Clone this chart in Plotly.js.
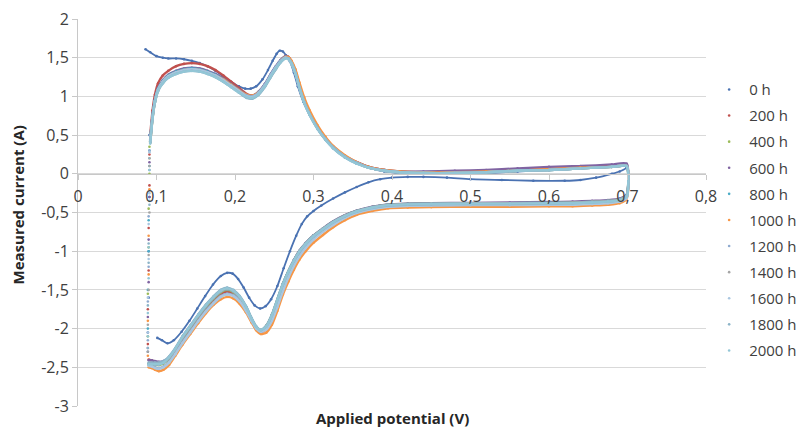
<!DOCTYPE html>
<html>
<head>
<meta charset="utf-8">
<script src="https://cdn.plot.ly/plotly-3.0.1.min.js"></script>
<style>html,body{margin:0;padding:0;background:#fff;}#chart{width:801px;height:427px;}</style>
</head>
<body>
<div id="chart"></div>
<script>
// ---------- DATA ----------
const seriesNames = ['0 h','200 h','400 h','600 h','800 h','1000 h','1200 h','1400 h','1600 h','1800 h','2000 h'];

const xTickVals = [0,0.1,0.2,0.3,0.4,0.5,0.6,0.7,0.8];
const xTickText = ['0','0,1','0,2','0,3','0,4','0,5','0,6','0,7','0,8'];
const yTickVals = [-3,-2.5,-2,-1.5,-1,-0.5,0,0.5,1,1.5,2];
const yTickText = ['-3','-2,5','-2','-1,5','-1','-0,5','0','0,5','1','1,5','2'];

// applied potential (V), anodic (forward) and cathodic (reverse) sweeps, 200 h - 2000 h
const potentialFwd = [0.092,0.095,0.098,0.102,0.108,0.115,0.125,0.135,0.145,0.155,0.165,0.175,0.185,0.195,0.205,0.215,0.222,0.23,0.238,0.245,0.252,0.258,0.264,0.268,0.272,0.277,0.282,0.288,0.295,0.305,0.315,0.325,0.34,0.355,0.37,0.39,0.41,0.44,0.48,0.52,0.56,0.6,0.64,0.68,0.699];
const potentialRev = [0.699,0.69,0.675,0.655,0.63,0.6,0.55,0.5,0.45,0.42,0.395,0.375,0.355,0.34,0.325,0.312,0.3,0.29,0.282,0.275,0.268,0.261,0.254,0.247,0.24,0.233,0.227,0.221,0.214,0.206,0.198,0.19,0.182,0.173,0.163,0.153,0.143,0.133,0.124,0.116,0.109,0.103,0.098,0.094,0.09];
// 0 h sweeps
const potential0hFwd = [0.086,0.092,0.1,0.108,0.115,0.125,0.135,0.145,0.155,0.165,0.175,0.185,0.195,0.205,0.213,0.22,0.227,0.235,0.242,0.248,0.253,0.257,0.261,0.265,0.27,0.275,0.28,0.287,0.295,0.305,0.315,0.325,0.34,0.355,0.37,0.39,0.41,0.44,0.48,0.52,0.56,0.6,0.64,0.68,0.699];
const potential0hRev = [0.699,0.69,0.68,0.66,0.64,0.62,0.58,0.54,0.5,0.47,0.44,0.42,0.4,0.385,0.37,0.355,0.34,0.325,0.31,0.3,0.292,0.285,0.278,0.27,0.262,0.254,0.246,0.239,0.232,0.225,0.218,0.211,0.204,0.197,0.19,0.182,0.172,0.162,0.152,0.142,0.132,0.122,0.114,0.107,0.101];
// sparse points of the potential step back to the start
const potentialJump = [0.089,0.089,0.09,0.09,0.091,0.091];

// measured current (A)
const current0hFwd = [1.61,1.57,1.52,1.5,1.49,1.49,1.48,1.46,1.43,1.39,1.33,1.26,1.19,1.13,1.1,1.1,1.13,1.22,1.34,1.46,1.55,1.59,1.58,1.53,1.45,1.31,1.13,0.93,0.76,0.58,0.44,0.33,0.21,0.13,0.08,0.03,0.01,0.0,0.0,0.01,0.03,0.05,0.07,0.09,0.1];
const current0hRev = [0.08,0.03,0.0,-0.05,-0.08,-0.09,-0.09,-0.08,-0.07,-0.05,-0.04,-0.04,-0.05,-0.07,-0.11,-0.17,-0.24,-0.32,-0.41,-0.48,-0.55,-0.65,-0.8,-1.0,-1.22,-1.45,-1.62,-1.71,-1.74,-1.7,-1.6,-1.47,-1.36,-1.29,-1.28,-1.32,-1.43,-1.58,-1.74,-1.9,-2.04,-2.15,-2.19,-2.15,-2.12];
const current0hJump = [-2.3,-2.05,-1.6,-1.0,-0.3,0.5];

const current200hFwd = [0.50,0.82,1.02,1.17,1.27,1.33,1.39,1.42,1.43,1.42,1.39,1.34,1.27,1.19,1.11,1.03,1.01,1.05,1.15,1.27,1.38,1.46,1.51,1.51,1.45,1.33,1.15,0.96,0.79,0.61,0.47,0.35,0.23,0.15,0.09,0.05,0.03,0.02,0.02,0.03,0.05,0.06,0.08,0.10,0.11];
const current200hRev = [-0.29,-0.34,-0.36,-0.37,-0.38,-0.385,-0.39,-0.39,-0.395,-0.40,-0.41,-0.44,-0.49,-0.55,-0.63,-0.72,-0.81,-0.91,-1.01,-1.13,-1.28,-1.45,-1.66,-1.86,-2.0,-2.05,-2.01,-1.9,-1.75,-1.63,-1.55,-1.52,-1.55,-1.63,-1.74,-1.87,-2.01,-2.15,-2.29,-2.39,-2.43,-2.44,-2.43,-2.41,-2.40];
const current200hJump = [-2.2,-1.75,-1.25,-0.7,-0.15,0.25];

const current400hFwd = [0.42,0.73,0.94,1.09,1.19,1.26,1.31,1.34,1.35,1.34,1.31,1.27,1.21,1.14,1.07,1.00,0.99,1.04,1.14,1.26,1.37,1.45,1.50,1.50,1.44,1.31,1.13,0.94,0.78,0.60,0.46,0.34,0.22,0.14,0.08,0.04,0.02,0.01,0.01,0.02,0.04,0.05,0.07,0.09,0.10];
const current400hRev = [-0.28,-0.33,-0.35,-0.36,-0.37,-0.375,-0.38,-0.38,-0.385,-0.39,-0.40,-0.43,-0.48,-0.54,-0.62,-0.71,-0.80,-0.90,-1.00,-1.12,-1.26,-1.43,-1.63,-1.83,-1.97,-2.03,-1.99,-1.88,-1.73,-1.61,-1.53,-1.50,-1.53,-1.61,-1.72,-1.85,-1.99,-2.13,-2.28,-2.39,-2.45,-2.47,-2.47,-2.47,-2.47];
const current400hJump = [-2.1,-1.55,-0.95,-0.45,0.0,0.35];

const current600hFwd = [0.44,0.76,0.96,1.11,1.21,1.28,1.33,1.36,1.37,1.36,1.33,1.29,1.23,1.16,1.09,1.02,1.01,1.06,1.16,1.28,1.39,1.47,1.52,1.51,1.44,1.31,1.13,0.94,0.78,0.60,0.46,0.35,0.23,0.15,0.09,0.05,0.03,0.03,0.04,0.05,0.07,0.09,0.10,0.12,0.13];
const current600hRev = [-0.27,-0.32,-0.34,-0.35,-0.36,-0.365,-0.37,-0.375,-0.38,-0.385,-0.395,-0.425,-0.475,-0.535,-0.615,-0.705,-0.795,-0.895,-0.995,-1.115,-1.26,-1.43,-1.64,-1.84,-1.99,-2.04,-2.0,-1.88,-1.72,-1.59,-1.51,-1.48,-1.51,-1.59,-1.70,-1.83,-1.97,-2.11,-2.26,-2.37,-2.42,-2.43,-2.42,-2.41,-2.41];
const current600hJump = [-2.25,-1.85,-1.4,-0.85,-0.3,0.15];

const current800hFwd = [0.45,0.75,0.95,1.10,1.20,1.27,1.32,1.35,1.36,1.35,1.32,1.28,1.22,1.15,1.08,1.01,1.00,1.05,1.15,1.27,1.38,1.46,1.51,1.50,1.43,1.30,1.12,0.93,0.77,0.59,0.45,0.34,0.22,0.14,0.08,0.04,0.02,0.01,0.01,0.02,0.04,0.05,0.07,0.09,0.10];
const current800hRev = [-0.28,-0.33,-0.35,-0.36,-0.37,-0.375,-0.38,-0.38,-0.385,-0.39,-0.40,-0.43,-0.48,-0.54,-0.62,-0.71,-0.80,-0.90,-1.00,-1.12,-1.26,-1.42,-1.62,-1.82,-1.96,-2.02,-1.98,-1.87,-1.72,-1.60,-1.52,-1.49,-1.52,-1.60,-1.71,-1.84,-1.98,-2.12,-2.27,-2.38,-2.44,-2.46,-2.46,-2.45,-2.45];
const current800hJump = [-2.0,-1.5,-1.0,-0.6,0.1,0.3];

const current1000hFwd = [0.40,0.72,0.93,1.08,1.19,1.26,1.31,1.34,1.35,1.34,1.31,1.27,1.22,1.15,1.08,1.02,1.01,1.05,1.14,1.25,1.36,1.45,1.51,1.51,1.46,1.35,1.18,0.99,0.82,0.63,0.48,0.36,0.24,0.15,0.09,0.05,0.03,0.02,0.02,0.03,0.04,0.06,0.08,0.09,0.10];
const current1000hRev = [-0.32,-0.38,-0.40,-0.41,-0.42,-0.42,-0.425,-0.425,-0.43,-0.435,-0.445,-0.48,-0.53,-0.60,-0.69,-0.79,-0.89,-1.0,-1.11,-1.24,-1.39,-1.56,-1.77,-1.95,-2.05,-2.07,-2.02,-1.92,-1.79,-1.68,-1.61,-1.59,-1.62,-1.69,-1.80,-1.93,-2.07,-2.21,-2.35,-2.47,-2.53,-2.55,-2.53,-2.51,-2.50];
const current1000hJump = [-2.35,-1.9,-1.3,-0.8,-0.2,0.2];

const current1200hFwd = [0.43,0.74,0.94,1.09,1.19,1.26,1.31,1.34,1.35,1.34,1.31,1.27,1.21,1.14,1.07,1.01,1.00,1.05,1.15,1.27,1.38,1.46,1.50,1.49,1.42,1.29,1.11,0.93,0.77,0.59,0.45,0.34,0.22,0.14,0.08,0.04,0.02,0.01,0.01,0.02,0.04,0.05,0.07,0.09,0.10];
const current1200hRev = [-0.30,-0.35,-0.37,-0.38,-0.39,-0.395,-0.40,-0.40,-0.405,-0.41,-0.42,-0.45,-0.50,-0.56,-0.65,-0.74,-0.84,-0.94,-1.05,-1.17,-1.32,-1.49,-1.69,-1.88,-2.0,-2.04,-1.99,-1.89,-1.75,-1.64,-1.57,-1.55,-1.58,-1.66,-1.77,-1.90,-2.04,-2.18,-2.32,-2.43,-2.49,-2.51,-2.50,-2.48,-2.47];
const current1200hJump = [-2.15,-1.65,-1.2,-0.55,0.05,0.3];

const current1400hFwd = [0.41,0.73,0.93,1.08,1.18,1.25,1.30,1.33,1.34,1.33,1.30,1.26,1.20,1.13,1.06,0.99,0.98,1.03,1.13,1.25,1.36,1.45,1.50,1.49,1.43,1.30,1.12,0.93,0.77,0.59,0.45,0.34,0.22,0.14,0.08,0.04,0.02,0.01,0.01,0.02,0.04,0.05,0.07,0.09,0.10];
const current1400hRev = [-0.28,-0.33,-0.35,-0.36,-0.37,-0.375,-0.38,-0.38,-0.385,-0.39,-0.40,-0.43,-0.48,-0.54,-0.62,-0.71,-0.80,-0.90,-1.00,-1.12,-1.26,-1.42,-1.62,-1.82,-1.96,-2.02,-1.98,-1.87,-1.72,-1.60,-1.52,-1.49,-1.52,-1.60,-1.71,-1.84,-1.98,-2.12,-2.27,-2.38,-2.44,-2.46,-2.46,-2.45,-2.45];
const current1400hJump = [-2.3,-1.95,-1.5,-1.05,-0.5,0.1];

const current1600hFwd = [0.42,0.74,0.94,1.09,1.19,1.26,1.31,1.34,1.35,1.34,1.31,1.27,1.21,1.14,1.07,1.00,0.99,1.04,1.14,1.26,1.37,1.45,1.50,1.49,1.43,1.30,1.12,0.93,0.77,0.59,0.45,0.34,0.22,0.14,0.08,0.04,0.02,0.01,0.01,0.02,0.04,0.05,0.07,0.09,0.10];
const current1600hRev = [-0.31,-0.36,-0.38,-0.39,-0.40,-0.40,-0.405,-0.405,-0.41,-0.415,-0.425,-0.455,-0.505,-0.57,-0.66,-0.75,-0.85,-0.96,-1.07,-1.19,-1.34,-1.52,-1.72,-1.9,-2.01,-2.04,-2.0,-1.9,-1.77,-1.65,-1.58,-1.56,-1.59,-1.67,-1.78,-1.91,-2.05,-2.19,-2.33,-2.44,-2.5,-2.52,-2.51,-2.49,-2.48];
const current1600hJump = [-2.05,-1.6,-1.1,-0.65,-0.25,0.28];

const current1800hFwd = [0.40,0.72,0.92,1.07,1.17,1.24,1.29,1.32,1.33,1.32,1.29,1.25,1.19,1.12,1.05,0.98,0.97,1.02,1.12,1.24,1.35,1.44,1.49,1.49,1.43,1.30,1.12,0.93,0.77,0.59,0.45,0.34,0.22,0.14,0.08,0.04,0.02,0.01,0.01,0.02,0.04,0.05,0.07,0.09,0.10];
const current1800hRev = [-0.29,-0.34,-0.36,-0.37,-0.38,-0.385,-0.39,-0.39,-0.395,-0.40,-0.41,-0.44,-0.49,-0.55,-0.63,-0.72,-0.81,-0.91,-1.01,-1.13,-1.27,-1.43,-1.63,-1.83,-1.97,-2.02,-1.97,-1.86,-1.71,-1.58,-1.50,-1.47,-1.50,-1.58,-1.69,-1.82,-1.96,-2.10,-2.25,-2.36,-2.42,-2.44,-2.44,-2.44,-2.44];
const current1800hJump = [-2.25,-1.7,-1.15,-0.9,-0.4,0.2];

const current2000hFwd = [0.39,0.71,0.92,1.07,1.17,1.24,1.29,1.32,1.33,1.32,1.29,1.25,1.19,1.12,1.05,0.99,0.98,1.03,1.13,1.25,1.36,1.44,1.49,1.48,1.42,1.29,1.11,0.92,0.76,0.58,0.44,0.33,0.21,0.13,0.08,0.04,0.02,0.01,0.01,0.02,0.04,0.05,0.07,0.09,0.10];
const current2000hRev = [-0.29,-0.34,-0.36,-0.37,-0.38,-0.38,-0.385,-0.385,-0.39,-0.395,-0.405,-0.435,-0.485,-0.545,-0.625,-0.715,-0.805,-0.905,-1.005,-1.125,-1.265,-1.43,-1.63,-1.83,-1.97,-2.02,-1.98,-1.87,-1.72,-1.59,-1.51,-1.48,-1.51,-1.59,-1.70,-1.83,-1.97,-2.11,-2.26,-2.37,-2.44,-2.46,-2.46,-2.46,-2.46];
const current2000hJump = [-2.1,-1.8,-1.35,-0.95,-0.35,0.05];

// ---------- STYLE ----------
const seriesColors = ['#4a72b2','#C0504D','#9BBB59','#8064A2','#4BACC6','#F79646','#8FAACF','#A5A5A5','#A9C6E0','#8CB4C8','#93C6D6'];

const seriesData = [
  [potential0hFwd, current0hFwd, potential0hRev, current0hRev, current0hJump],
  [potentialFwd, current200hFwd, potentialRev, current200hRev, current200hJump],
  [potentialFwd, current400hFwd, potentialRev, current400hRev, current400hJump],
  [potentialFwd, current600hFwd, potentialRev, current600hRev, current600hJump],
  [potentialFwd, current800hFwd, potentialRev, current800hRev, current800hJump],
  [potentialFwd, current1000hFwd, potentialRev, current1000hRev, current1000hJump],
  [potentialFwd, current1200hFwd, potentialRev, current1200hRev, current1200hJump],
  [potentialFwd, current1400hFwd, potentialRev, current1400hRev, current1400hJump],
  [potentialFwd, current1600hFwd, potentialRev, current1600hRev, current1600hJump],
  [potentialFwd, current1800hFwd, potentialRev, current1800hRev, current1800hJump],
  [potentialFwd, current2000hFwd, potentialRev, current2000hRev, current2000hJump]
];

const traces = [];
seriesNames.forEach((name, i) => {
  const [xf, yf, xr, yr, yj] = seriesData[i];
  const loopX = xf.concat(xr);
  const loopY = yf.concat(yr);
  traces.push({
    type: 'scatter', mode: 'lines', name: name, legendgroup: name, showlegend: false,
    x: loopX, y: loopY, line: {color: seriesColors[i], width: i === 0 ? 1.8 : 2.4, shape: 'spline', smoothing: 0.6},
    hoverinfo: 'skip'
  });
  traces.push({
    type: 'scatter', mode: 'markers', name: name, legendgroup: name, showlegend: true,
    x: loopX.concat(potentialJump), y: loopY.concat(yj),
    marker: {color: seriesColors[i], size: 2.6}
  });
});

const layout = {
  width: 801, height: 427,
  margin: {l: 78, r: 95, t: 19, b: 21, autoexpand: false},
  paper_bgcolor: '#ffffff', plot_bgcolor: '#ffffff',
  font: {family: '"Open Sans", sans-serif', size: 15, color: '#404040'},
  showlegend: true,
  legend: {x: 1.005, xanchor: 'left', y: 0.86, yanchor: 'top', tracegroupgap: 3.6,
           font: {size: 15, color: '#404040'}, bgcolor: 'rgba(0,0,0,0)', itemwidth: 30},
  xaxis: {
    range: [0, 0.8], anchor: 'free', position: 0.6,
    tickvals: xTickVals, ticktext: xTickText,
    showgrid: false, zeroline: false,
    showline: true, linecolor: '#c8c8c8', linewidth: 1,
    ticks: 'outside', ticklen: 5, tickcolor: '#c8c8c8', ticklabelstandoff: 3,
    tickfont: {size: 16, color: '#404040'}
  },
  yaxis: {
    range: [-3, 2], tickvals: yTickVals, ticktext: yTickText,
    showgrid: true, gridcolor: '#d9d9d9', gridwidth: 1, zeroline: false,
    showline: true, linecolor: '#c8c8c8', linewidth: 1,
    ticks: 'outside', ticklen: 5, tickcolor: '#c8c8c8',
    tickfont: {size: 16, color: '#404040'}
  },
  annotations: [
    {text: '<b>Applied potential (V)</b>', xref: 'paper', yref: 'paper', x: 0.5, y: -0.032,
     xanchor: 'center', yanchor: 'middle', showarrow: false, font: {size: 15, color: '#262626'}},
    {text: '<b>Measured current (A)</b>', xref: 'paper', yref: 'paper', x: -0.096, y: 0.52,
     xanchor: 'center', yanchor: 'middle', textangle: -90, showarrow: false, font: {size: 15, color: '#262626'}}
  ]
};

Plotly.newPlot('chart', traces, layout, {staticPlot: true, displayModeBar: false});
</script>
</body>
</html>
